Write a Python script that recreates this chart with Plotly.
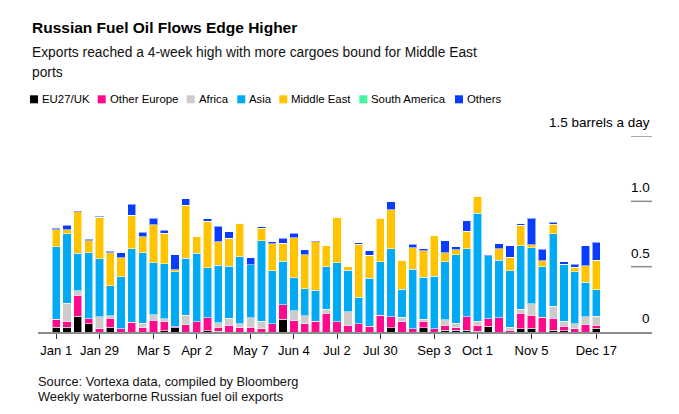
import pandas as pd
import plotly.graph_objects as go

# ---- data (million barrels a day, weekly, 2023) ----
week_start = "2023-01-01"
n_weeks = 51
series_names = ["EU27/UK", "Other Europe", "Africa", "Asia", "Middle East", "South America", "Others"]
series_colors = ["#000000", "#ff0a8c", "#cccccc", "#00aaf5", "#ffc300", "#3ef5a0", "#0a3cff"]

eu27_uk = [.038, .038, .121, .062, 0, .038, 0, 0, 0, 0, .008, .033, 0, 0, .008, .005, 0, 0, 0, 0,
           0, .097, 0, 0, 0, 0, 0, 0, 0, 0, 0, .031, 0, 0, .031, 0, .013, .013, .013, .005,
           .044, 0, 0, .026, .028, 0, .013, .008, 0, 0, .028]
other_europe = [.059, .044, .162, .041, .023, .067, .026, .074, .033, .090, .069, .008, .054, .077, .100, .031, .051, .031, .036, .023,
                .062, .113, .087, .064, .082, .144, .077, .051, .062, .044, .128, .087, .079, .023, .051, .023, .038, .021, .103, .046,
                .056, .110, .015, .118, .100, .113, .092, .036, .026, .056, .023]
africa = [0, .138, .031, 0, .095, .021, 0, 0, .033, .041, .023, 0, .074, 0, 0, .033, .056, .033, .074, .059,
          0, 0, .074, .062, 0, .031, 0, .105, 0, 0, 0, 0, .033, 0, .015, 0, .041, .033, 0, .031,
          0, 0, .023, .031, .090, 0, .092, .038, .038, .062, .069]
asia = [.556, .533, .287, .505, .441, .228, .395, .564, .541, .400, .423, .421, .438, .526, .385, .441, .397, .513, .403, .615,
        .405, .333, .254, .205, .238, .326, .454, .318, .205, .367, .410, .521, .215, .459, .321, .405, .446, .523, .521, .826,
        .482, .438, .431, .487, .428, .385, .554, .436, .397, .264, .205]
middle_east = [.131, .031, .318, .092, .318, .254, .146, .254, .121, .290, .231, .013, .405, .131, .356, .179, .213, .254, 0, .097,
               .208, .138, .308, .262, .369, .164, .349, .028, .403, .177, .333, .297, .221, .162, .205, .310, .067, .038, .133, .131,
               0, .090, .103, .154, .021, .049, .072, 0, .033, .126, .226]
south_america = [0] * 51
others = [.010, .033, .010, .010, .010, .010, .038, .087, .036, .051, .023, .118, .049, 0, .018, .121, .049, 0, .056, .013,
          .015, .038, .033, .038, .008, 0, 0, 0, .013, .033, 0, .059, 0, .028, .015, 0, .092, .023, .082, 0,
          .010, .038, .090, .013, .205, .087, .018, .021, .026, .154, .136]

tick_dates = ["2023-01-01", "2023-01-29", "2023-03-05", "2023-04-02", "2023-05-07", "2023-06-04",
              "2023-07-02", "2023-07-30", "2023-09-03", "2023-10-01", "2023-11-05", "2023-12-17"]
tick_labels = ["Jan 1", "Jan 29", "Mar 5", "Apr 2", "May 7", "Jun 4",
               "Jul 2", "Jul 30", "Sep 3", "Oct 1", "Nov 5", "Dec 17"]
y_ticks = [0, 0.5, 1.0, 1.5]
y_tick_labels = ["0", "0.5", "1.0", "1.5 barrels a day"]

title = "Russian Fuel Oil Flows Edge Higher"
subtitle_lines = ["Exports reached a 4-week high with more cargoes bound for Middle East", "ports"]
footer_lines = ["Source: Vortexa data, compiled by Bloomberg", "Weekly waterborne Russian fuel oil exports"]

# ---- figure (page body has an 8px margin, so the figure is 8px smaller) ----
OFF = 8
W, H = 679 - OFF, 414 - OFF
L, R, T, B = 38 - OFF, 27, 136 - OFF, 82
PW, PH = W - L - R, H - T - B
FONT = "Liberation Sans, Arial, sans-serif"


def px_x(page_x):
    return (page_x - OFF - L) / PW


def px_y(page_y):
    return (H - B - (page_y - OFF)) / PH


dates = pd.date_range(week_start, periods=n_weeks, freq="7D")
all_series = [eu27_uk, other_europe, africa, asia, middle_east, south_america, others]

fig = go.Figure()
for name, color, vals in zip(series_names, series_colors, all_series):
    fig.add_trace(go.Bar(x=dates, y=vals, name=name, marker_color=color,
                         marker_line=dict(color="rgba(255,255,255,0.55)", width=1),
                         showlegend=False))

x0 = pd.Timestamp(week_start) - pd.Timedelta(days=11.85)
x1 = pd.Timestamp(week_start) + pd.Timedelta(days=386.1)

fig.update_layout(
    width=W, height=H, margin=dict(l=L, r=R, t=T, b=B, autoexpand=False),
    barmode="stack", bargap=0.24,
    paper_bgcolor="white", plot_bgcolor="white",
    font=dict(family=FONT, color="#000000"),
    xaxis=dict(range=[x0, x1], tickvals=tick_dates, ticktext=tick_labels,
               ticks="outside", ticklen=5, tickwidth=1, tickcolor="#333333",
               showline=True, linecolor="#8c8c8c", linewidth=2,
               showgrid=False, zeroline=False, tickfont=dict(size=13, color="#000000")),
    yaxis=dict(range=[0, 1.5], showticklabels=False, showgrid=False, zeroline=False,
               ticks="", showline=False, fixedrange=True),
)

shapes = []
annotations = []
# short right-side gridlines
for v in y_ticks[1:]:
    shapes.append(dict(type="line", xref="paper", yref="y", x0=px_x(631), x1=1, y0=v, y1=v,
                       line=dict(color="#8c8c8c", width=1.5)))
for v, lab in zip(y_ticks, y_tick_labels):
    annotations.append(dict(xref="paper", yref="y", x=1, y=v, text=lab, showarrow=False,
                            xanchor="right", yanchor="bottom", yshift=4,
                            font=dict(size=13.5, color="#000000")))

# title, subtitle
annotations.append(dict(xref="paper", yref="paper", x=px_x(30), y=px_y(27), text="<b>" + title + "</b>",
                        showarrow=False, xanchor="left", yanchor="middle", font=dict(size=15.5, color="#000000")))
for line, cy in zip(subtitle_lines, [53, 72]):
    annotations.append(dict(xref="paper", yref="paper", x=px_x(30), y=px_y(cy), text=line,
                            showarrow=False, xanchor="left", yanchor="middle", font=dict(size=13.8, color="#111111")))

# custom legend
legend_x = [30, 97.7, 186.7, 237.3, 279.3, 359.3, 455]
ly = 99.3
for name, color, lx in zip(series_names, series_colors, legend_x):
    shapes.append(dict(type="rect", xref="paper", yref="paper", x0=px_x(lx), x1=px_x(lx + 8),
                       y0=px_y(ly + 4), y1=px_y(ly - 4), fillcolor=color, line=dict(width=0)))
    annotations.append(dict(xref="paper", yref="paper", x=px_x(lx + 10), y=px_y(ly), text=name,
                            showarrow=False, xanchor="left", yanchor="middle", font=dict(size=11.4, color="#000000")))

# footer
for line, cy in zip(footer_lines, [381.7, 396]):
    annotations.append(dict(xref="paper", yref="paper", x=px_x(36), y=px_y(cy), text=line,
                            showarrow=False, xanchor="left", yanchor="middle", font=dict(size=12.8, color="#111111")))

fig.update_layout(shapes=shapes, annotations=annotations)
fig.write_html("out.html")
